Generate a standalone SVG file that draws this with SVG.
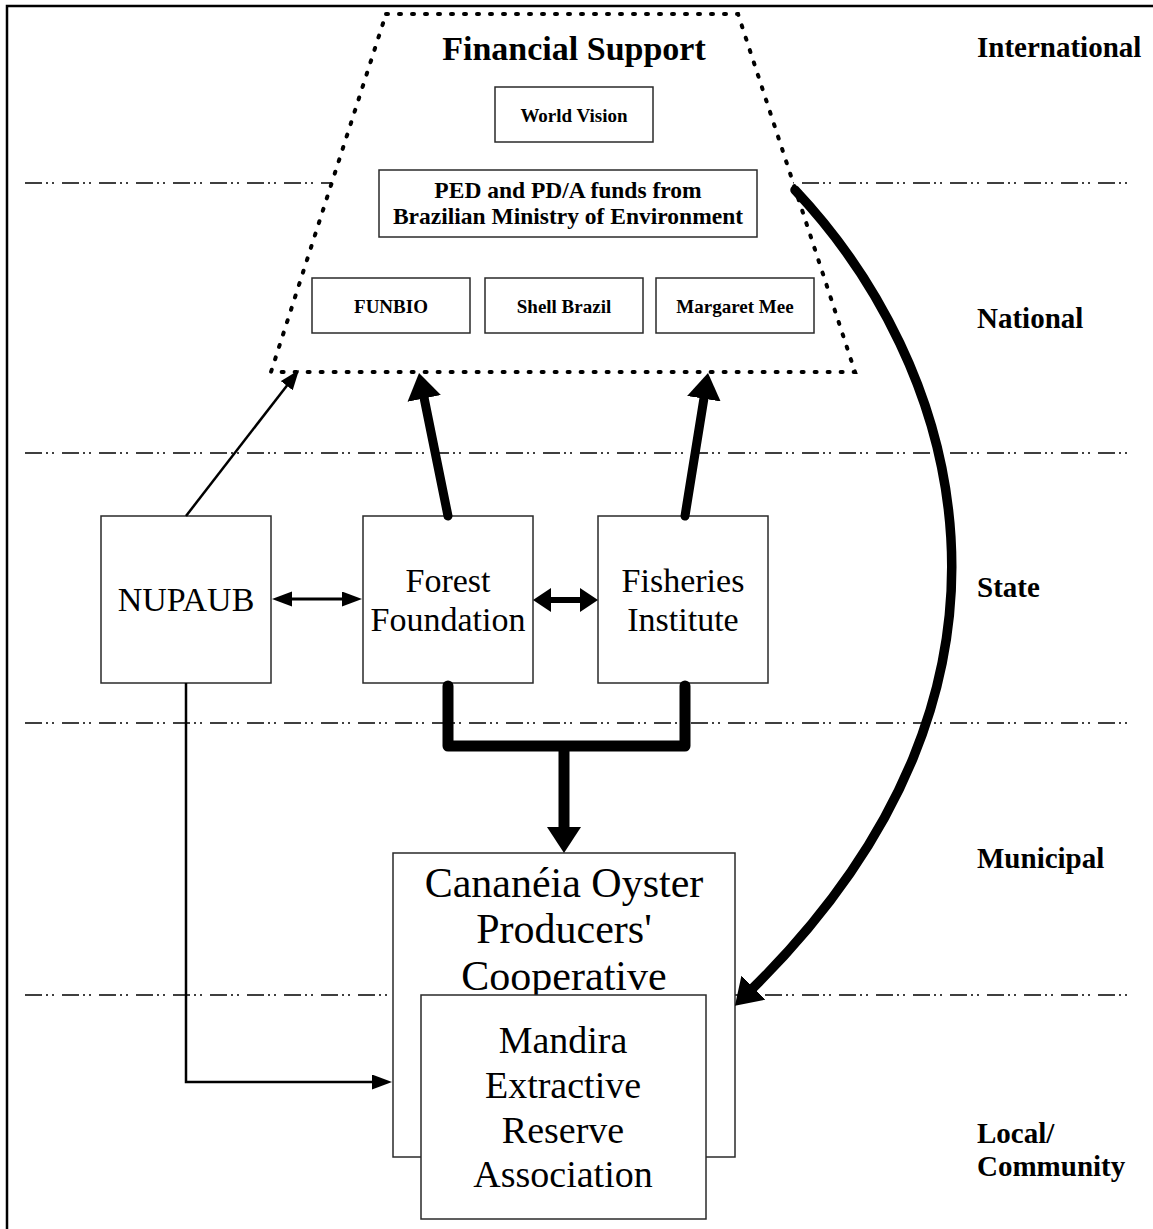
<svg xmlns="http://www.w3.org/2000/svg" width="1153" height="1229" viewBox="0 0 1153 1229">
<style>
.bx{fill:#fff;stroke:#2a2a2a;stroke-width:1.5}
.lvl{fill:none;stroke:#000;stroke-width:1.5;stroke-dasharray:17 4 2 4 2 8}
.t{font-family:"Liberation Serif","Times New Roman",serif;fill:#000;text-anchor:middle}
.b{font-weight:bold}
.lab{font-family:"Liberation Serif","Times New Roman",serif;font-weight:bold;font-size:29px;fill:#000}
.c{fill:none;stroke:#000}
</style>
<defs>
<marker id="aThin" markerUnits="userSpaceOnUse" markerWidth="22" markerHeight="16" refX="2" refY="7.5" orient="auto-start-reverse" viewBox="0 0 22 16"><path d="M0,0 L20,7.5 L0,15 z" fill="#000"/></marker>
<marker id="aMed" markerUnits="userSpaceOnUse" markerWidth="20" markerHeight="26" refX="2" refY="12" orient="auto-start-reverse" viewBox="0 0 20 26"><path d="M0,0 L18,12 L0,24 z" fill="#000"/></marker>
<marker id="aBig" markerUnits="userSpaceOnUse" markerWidth="28" markerHeight="36" refX="2" refY="17" orient="auto" viewBox="0 0 28 36"><path d="M0,0 L26,17 L0,34 z" fill="#000"/></marker>
</defs>
<g id="frame"><path d="M7,1229 L7,6 L1153,6" fill="none" stroke="#000" stroke-width="2.5"/></g>
<g id="levels">
<line class="lvl" x1="25" y1="183" x2="1133" y2="183"/>
<line class="lvl" x1="25" y1="453" x2="1133" y2="453"/>
<line class="lvl" x1="25" y1="723" x2="1133" y2="723"/>
<line class="lvl" x1="25" y1="995" x2="1133" y2="995"/>
</g>
<g id="level-labels">
<text class="lab" x="977" y="57">International</text>
<text class="lab" x="977" y="328">National</text>
<text class="lab" x="977" y="597">State</text>
<text class="lab" x="977" y="868">Municipal</text>
<text class="lab" x="977" y="1143">Local/</text>
<text class="lab" x="977" y="1176">Community</text>
</g>
<g id="financial-support">
<polygon points="386,14 738,14 855,372 271,372" fill="#fff" stroke="#000" stroke-width="4" stroke-linecap="round" stroke-dasharray="2 11"/>
<text class="t b" x="574" y="60" font-size="34">Financial Support</text>
</g>
<g id="world-vision"><rect class="bx" x="495" y="87" width="158" height="55"/><text class="t b" x="574" y="122" font-size="19">World Vision</text></g>
<g id="ped-funds"><rect class="bx" x="379" y="170" width="378" height="67"/><text class="t b" x="568" y="198" font-size="23.5">PED and PD/A funds from</text><text class="t b" x="568" y="224" font-size="23.5">Brazilian Ministry of Environment</text></g>
<g id="funbio"><rect class="bx" x="312" y="278" width="158" height="55"/><text class="t b" x="391" y="313" font-size="19">FUNBIO</text></g>
<g id="shell-brazil"><rect class="bx" x="485" y="278" width="158" height="55"/><text class="t b" x="564" y="313" font-size="19">Shell Brazil</text></g>
<g id="margaret-mee"><rect class="bx" x="656" y="278" width="158" height="55"/><text class="t b" x="735" y="313" font-size="19">Margaret Mee</text></g>
<g id="nupaub"><rect class="bx" x="101" y="516" width="170" height="167"/><text class="t" x="186" y="611" font-size="34">NUPAUB</text></g>
<g id="forest-foundation"><rect class="bx" x="363" y="516" width="170" height="167"/><text class="t" x="448" y="592" font-size="34">Forest</text><text class="t" x="448" y="631" font-size="34">Foundation</text></g>
<g id="fisheries-institute"><rect class="bx" x="598" y="516" width="170" height="167"/><text class="t" x="683" y="592" font-size="34">Fisheries</text><text class="t" x="683" y="631" font-size="34">Institute</text></g>
<g id="cananeia"><rect class="bx" x="393" y="853" width="342" height="304"/><text class="t" x="564" y="897" font-size="42">Cananéia Oyster</text><text class="t" x="564" y="943" font-size="42">Producers'</text><text class="t" x="564" y="990" font-size="42">Cooperative</text></g>
<g id="mandira"><rect class="bx" x="421" y="995" width="285" height="224"/><text class="t" x="563" y="1053" font-size="38">Mandira</text><text class="t" x="563" y="1098" font-size="38">Extractive</text><text class="t" x="563" y="1143" font-size="38">Reserve</text><text class="t" x="563" y="1187" font-size="38">Association</text></g>
<g id="connectors">
<line class="c" x1="186" y1="516" x2="288" y2="384.2" stroke-width="2.5" marker-end="url(#aThin)"/>
<line class="c" x1="448" y1="516" x2="423.8" y2="396.5" stroke-width="9" stroke-linecap="round" marker-end="url(#aBig)"/>
<line class="c" x1="685" y1="516" x2="704.2" y2="396.7" stroke-width="9" stroke-linecap="round" marker-end="url(#aBig)"/>
<line class="c" x1="290" y1="599" x2="344" y2="599" stroke-width="3" marker-start="url(#aThin)" marker-end="url(#aThin)"/>
<line class="c" x1="549" y1="600" x2="582" y2="600" stroke-width="6" marker-start="url(#aMed)" marker-end="url(#aMed)"/>
<path class="c" d="M448,686 L448,746 L685,746 L685,686" stroke-width="11" stroke-linecap="round" stroke-linejoin="round"/>
<line class="c" x1="564" y1="746" x2="564" y2="829" stroke-width="11" marker-end="url(#aBig)"/>
<path class="c" d="M186,683 L186,1082 L374,1082" stroke-width="2.5" marker-end="url(#aThin)"/>
<path class="c" d="M795,190 C955,360 1065,680 752,989" stroke-width="9.5" stroke-linecap="round" marker-end="url(#aBig)"/>
</g>
</svg>
